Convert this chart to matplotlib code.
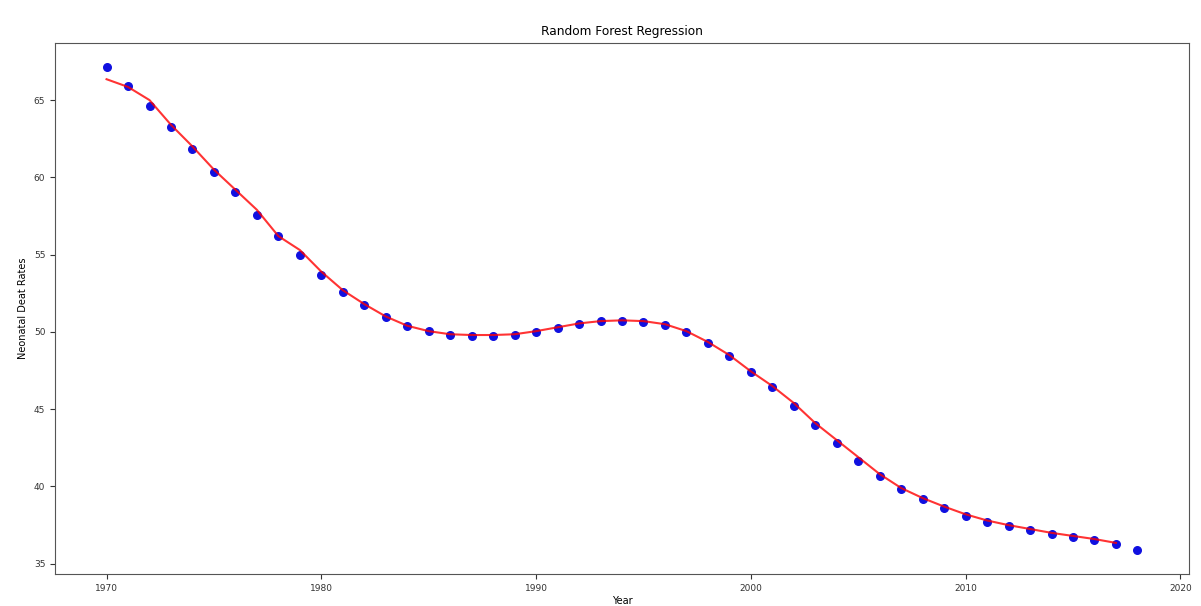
import matplotlib
matplotlib.use("Agg")
import matplotlib.pyplot as plt
import numpy as np

# observed neonatal death rates per year
years = np.arange(1970, 2019)
rates = [67.13, 65.9, 64.6, 63.25, 61.83, 60.34, 59.05, 57.56, 56.2, 54.97,
         53.68, 52.58, 51.74, 50.96, 50.38, 50.06, 49.8, 49.74, 49.74, 49.8,
         50.0, 50.26, 50.5, 50.68, 50.72, 50.66, 50.45, 50.0, 49.3, 48.45,
         47.4, 46.44, 45.2, 43.98, 42.8, 41.65, 40.68, 39.84, 39.2, 38.6,
         38.1, 37.7, 37.45, 37.2, 36.93, 36.74, 36.55, 36.3, 35.9]

# random forest predictions (1970-2017)
pred_years = np.arange(1970, 2018)
pred = [66.35, 65.85, 65.0, 63.4, 62.0, 60.5, 59.2, 57.9, 56.2, 55.3,
        53.9, 52.7, 51.8, 51.0, 50.4, 50.05, 49.85, 49.8, 49.8, 49.85,
        50.05, 50.3, 50.55, 50.7, 50.75, 50.7, 50.5, 50.05, 49.35, 48.5,
        47.45, 46.5, 45.4, 44.1, 43.0, 41.9, 40.8, 39.9, 39.25, 38.7,
        38.2, 37.8, 37.5, 37.25, 37.0, 36.8, 36.6, 36.35]

fig = plt.figure(figsize=(12.01, 6.06), dpi=100)
ax = fig.add_axes([0.0458, 0.0528, 0.9442, 0.8762])

ax.scatter(years, rates, color='#1010e0', s=30, zorder=2)
ax.plot(pred_years, pred, color='red', linewidth=1.5, zorder=3, alpha=0.8)

ax.set_title("Random Forest Regression", fontsize=8.7)
ax.set_xlabel("Year", fontsize=7, labelpad=2)
ax.set_ylabel("Neonatal Deat Rates", fontsize=7, labelpad=4)
ax.tick_params(labelsize=6.5, colors='#333333')
for s in ax.spines.values():
    s.set_color('#555555')

fig.savefig("out.png", dpi=100)
